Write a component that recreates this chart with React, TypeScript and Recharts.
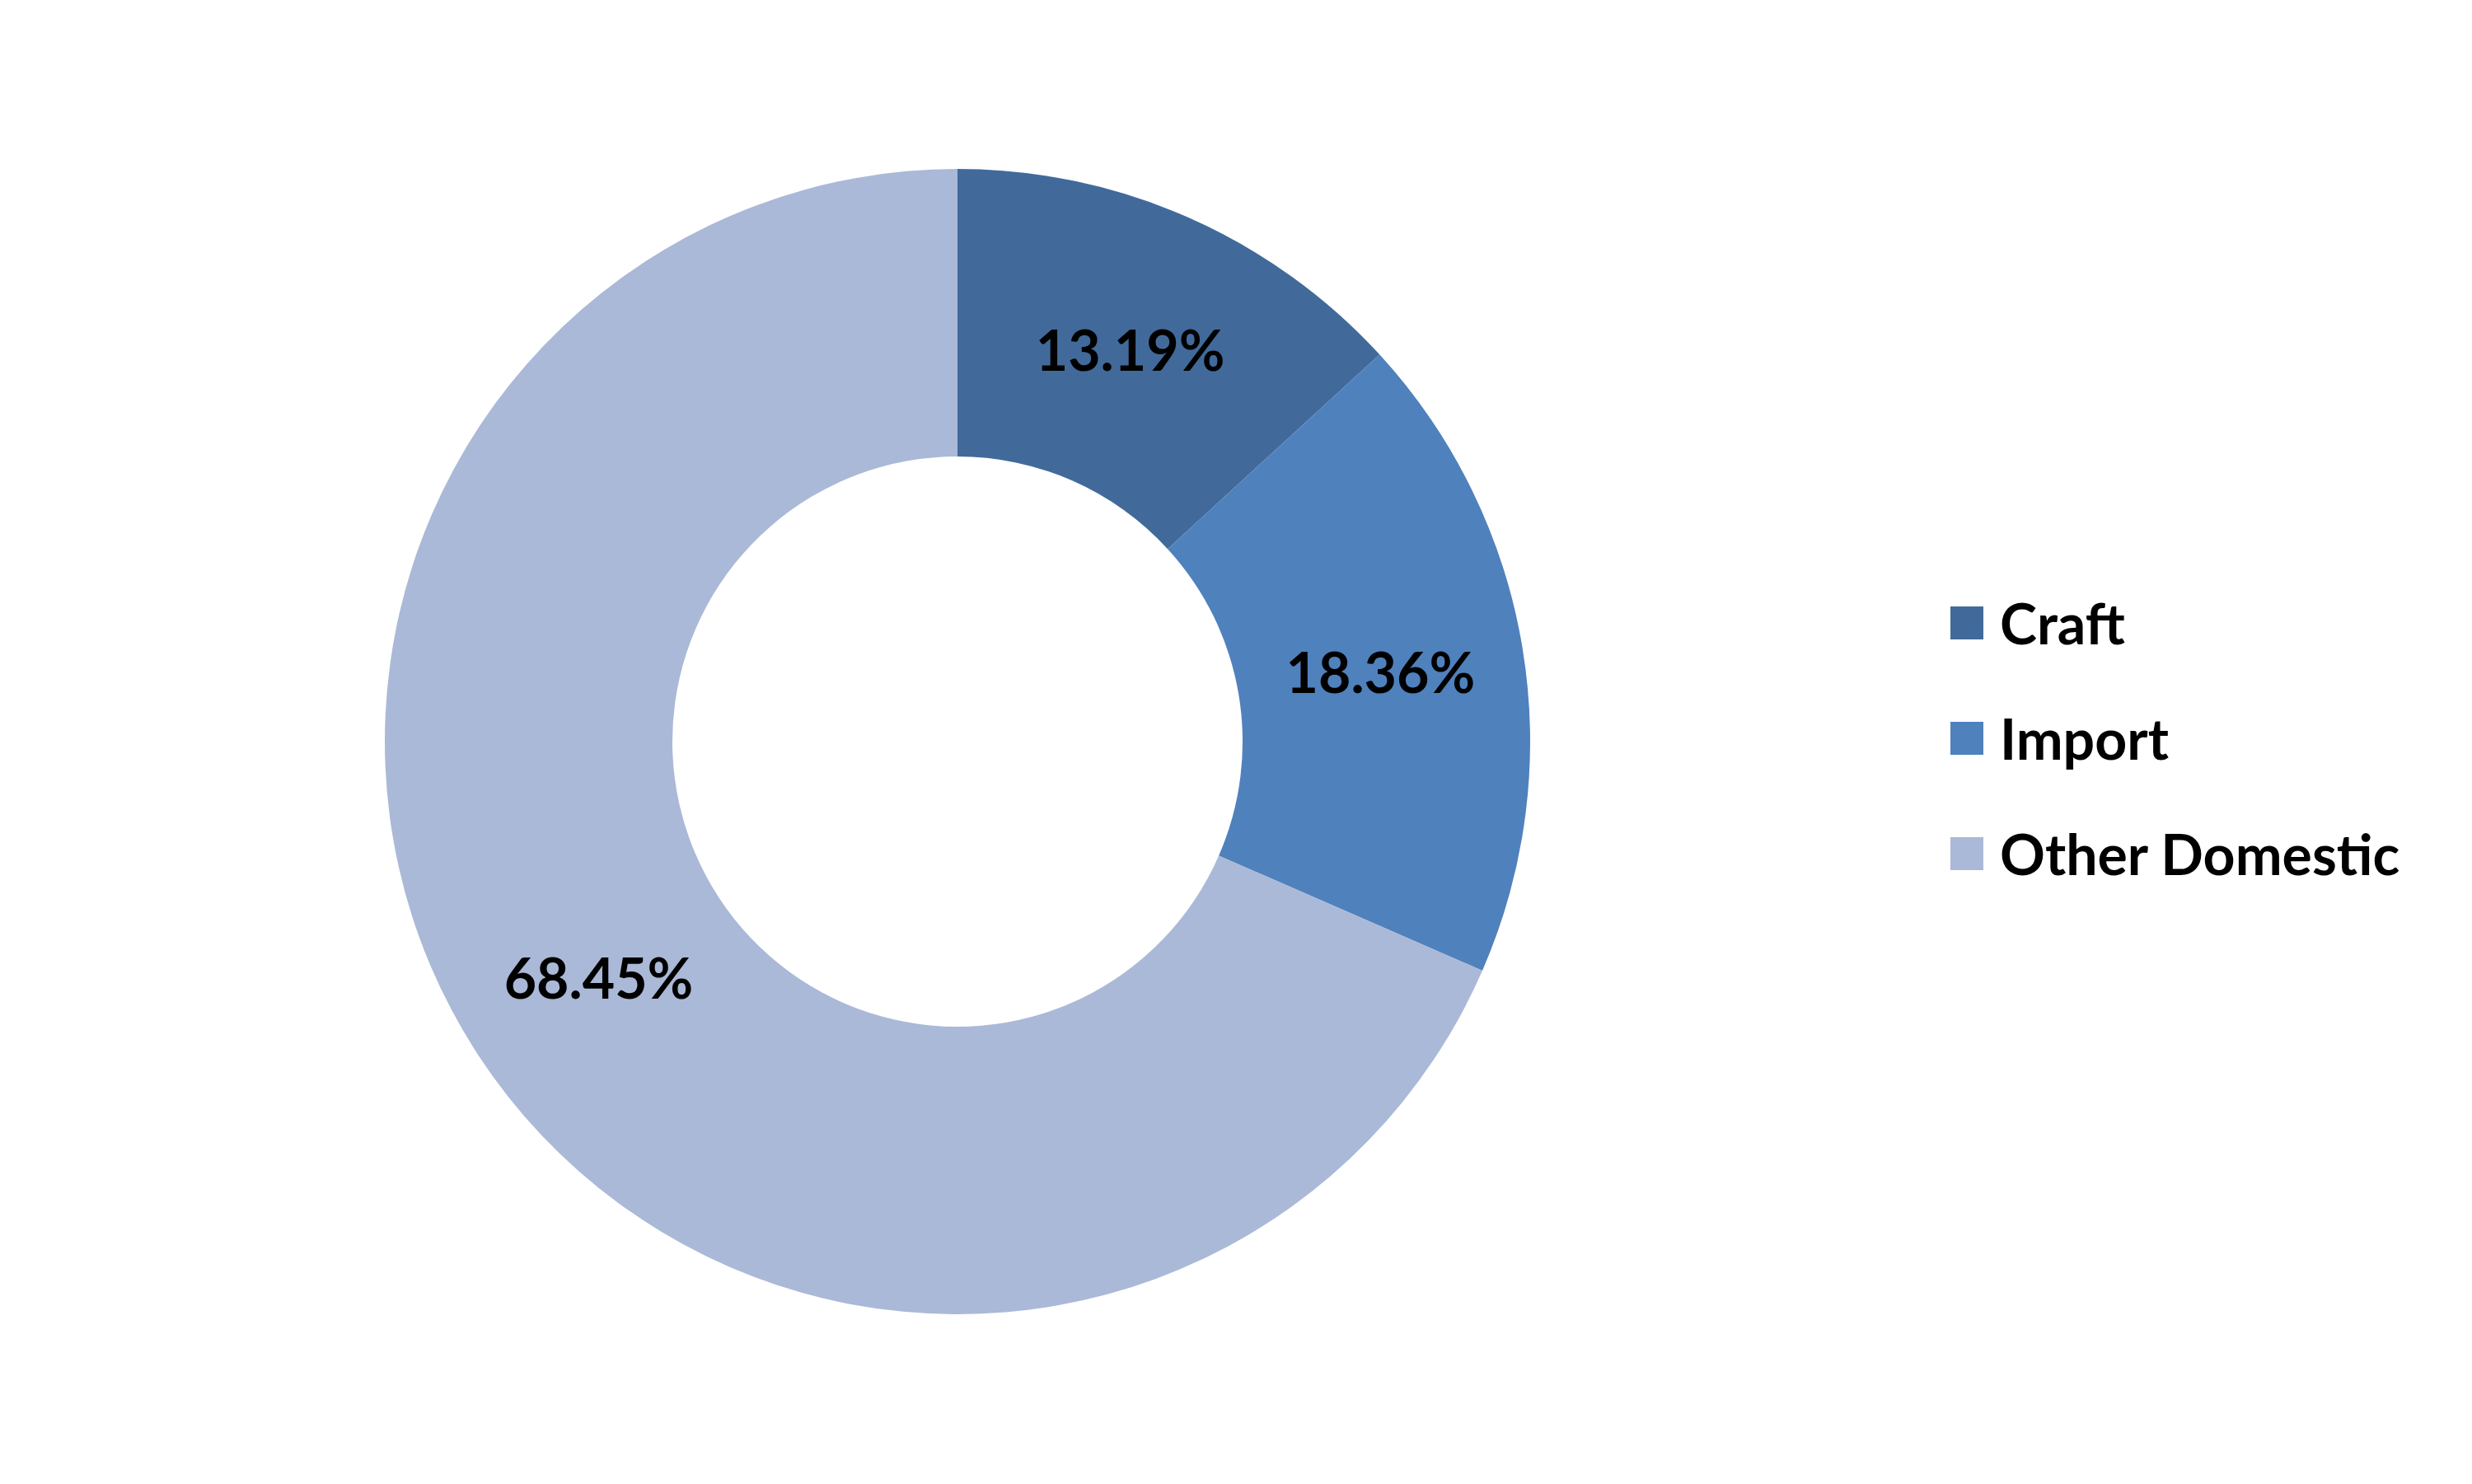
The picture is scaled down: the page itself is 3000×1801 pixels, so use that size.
import { PieChart, Pie, Cell, Legend } from 'recharts';

const categories = ['Craft', 'Import', 'Other Domestic'];
const shares = [13.19, 18.36, 68.45];
const colors = ['#416A9B', '#4F81BD', '#AAB9D7'];

const data = categories.map((name, i) => ({ name, value: shares[i] }));

const FONT = 'Lato, "Open Sans", sans-serif';
const RAD = Math.PI / 180;

function renderLabel(props: any) {
  const { cx, cy, midAngle, innerRadius, outerRadius, value } = props;
  const r = (innerRadius + outerRadius) / 2;
  const x = cx + r * Math.cos(-midAngle * RAD);
  const y = cy + r * Math.sin(-midAngle * RAD);
  return (
    <text x={x} y={y} textAnchor="middle" dominantBaseline="central"
      fontFamily={FONT} fontWeight={700} fontSize={68} fill="#000">
      {value.toFixed(2)}%
    </text>
  );
}

function LegendBox(props: any) {
  const { payload } = props;
  return (
    <div>
      {payload.map((p: any) => (
        <div key={p.value} style={{ display: 'flex', alignItems: 'center', height: 140 }}>
          <div style={{ width: 40, height: 40, background: p.color, marginRight: 20 }} />
          <span style={{ fontFamily: FONT, fontWeight: 700, fontSize: 68, color: '#000', lineHeight: 1 }}>{p.value}</span>
        </div>
      ))}
    </div>
  );
}

export default function App() {
  return (
    <div style={{ width: 3000, height: 1801, background: '#fff' }}>
      <style>{`body{margin:0}`}</style>
      <PieChart width={3000} height={1801}>
        <Pie data={data} dataKey="value" nameKey="name" cx={1157} cy={895}
          innerRadius={346} outerRadius={695} startAngle={90} endAngle={-270}
          stroke="none" label={renderLabel} labelLine={false} isAnimationActive={false}>
          {data.map((d, i) => <Cell key={d.name} fill={colors[i]} />)}
        </Pie>
        <Legend content={<LegendBox />} layout="vertical"
          wrapperStyle={{ left: 2367, top: 686, width: 620 }} />
      </PieChart>
    </div>
  );
}
